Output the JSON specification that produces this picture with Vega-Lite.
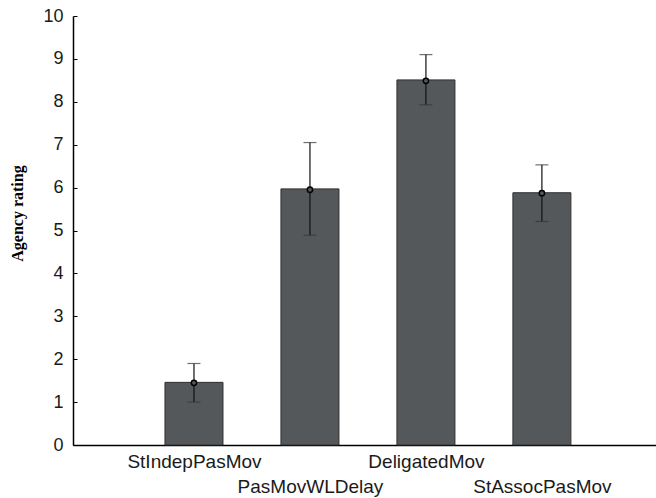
{
  "$schema": "https://vega.github.io/schema/vega-lite/v6.json",
  "width": 583,
  "height": 429,
  "autosize": "none",
  "padding": {"left": 73, "top": 16, "right": 0, "bottom": 53},
  "background": "white",
  "config": {"view": {"stroke": null}},
  "data": {
    "values": [
      {"i": 1, "cond": "StIndepPasMov", "mean": 1.46, "pt": 1.45, "lo": 1.0, "hi": 1.9},
      {"i": 2, "cond": "PasMovWLDelay", "mean": 5.97, "pt": 5.95, "lo": 4.89, "hi": 7.05},
      {"i": 3, "cond": "DeligatedMov", "mean": 8.51, "pt": 8.49, "lo": 7.93, "hi": 9.1},
      {"i": 4, "cond": "StAssocPasMov", "mean": 5.88, "pt": 5.87, "lo": 5.21, "hi": 6.53}
    ]
  },
  "encoding": {
    "x": {
      "field": "i",
      "type": "quantitative",
      "scale": {"domain": [0, 4.9407], "nice": false, "zero": false},
      "axis": {
        "title": null,
        "values": [1, 2, 3, 4],
        "grid": false,
        "labelExpr": "datum.value == 1 ? 'StIndepPasMov' : datum.value == 2 ? ['', 'PasMovWLDelay'] : datum.value == 3 ? 'DeligatedMov' : ['', 'StAssocPasMov']",
        "labelFont": "Liberation Sans",
        "labelFontSize": 19,
        "labelColor": "#1a1a1a",
        "labelLineHeight": 25,
        "labelPadding": 11,
        "labelFlush": false,
        "labelOverlap": false,
        "tickSize": -4,
        "tickColor": "#333333",
        "domainColor": "#000000",
        "domainWidth": 1.5
      }
    }
  },
  "layer": [
    {
      "mark": {"type": "bar", "size": 58, "fill": "#55585b", "stroke": "#2e2e2e", "strokeWidth": 1},
      "encoding": {
        "y": {
          "field": "mean",
          "type": "quantitative",
          "scale": {"domain": [0, 10], "nice": false},
          "axis": {
            "title": "Agency rating",
            "titleFont": "Liberation Serif",
            "titleFontSize": 16,
            "titleFontWeight": "bold",
            "titleColor": "#000000",
            "titleAngle": -90,
            "titleX": -56,
            "titleY": 197,
            "titleAlign": "center",
            "titleBaseline": "middle",
            "values": [0, 1, 2, 3, 4, 5, 6, 7, 8, 9, 10],
            "grid": false,
            "labelFont": "Liberation Sans",
            "labelFontSize": 18,
            "labelColor": "#1a1a1a",
            "labelPadding": 14,
            "tickSize": -4,
            "tickColor": "#000000",
            "domainColor": "#000000",
            "domainWidth": 1.5
          }
        }
      }
    },
    {
      "mark": {"type": "rule", "color": "#111111", "strokeWidth": 1.2},
      "encoding": {
        "y": {"field": "lo", "type": "quantitative"},
        "y2": {"field": "hi"}
      }
    },
    {
      "mark": {"type": "tick", "orient": "horizontal", "size": 13, "thickness": 1.2, "color": "#333333"},
      "encoding": {"y": {"field": "lo", "type": "quantitative"}}
    },
    {
      "mark": {"type": "tick", "orient": "horizontal", "size": 13, "thickness": 1.2, "color": "#333333"},
      "encoding": {"y": {"field": "hi", "type": "quantitative"}}
    },
    {
      "mark": {"type": "point", "shape": "circle", "size": 28, "filled": false, "stroke": "#000000", "strokeWidth": 1.5, "fill": "#55585b", "opacity": 1},
      "encoding": {"y": {"field": "pt", "type": "quantitative"}}
    }
  ]
}
